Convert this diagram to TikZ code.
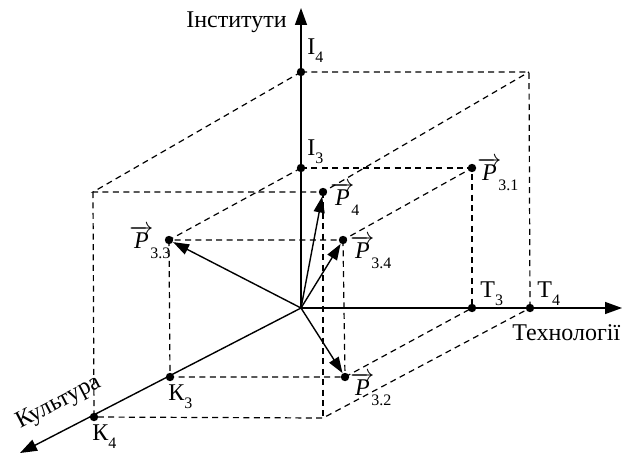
\documentclass[tikz,border=0pt]{standalone}
\usepackage{fontspec}
\setmainfont{Liberation Serif}
\usetikzlibrary{arrows.meta,positioning}

\newcommand{\lidx}[1]{\raisebox{-4pt}{\footnotesize #1}}
\newcommand{\vP}[1]{$\overrightarrow{\textit{P}}$\kern-1.5pt\raisebox{-5pt}{\footnotesize #1}}

\begin{document}
\begin{tikzpicture}[
    x=0.5pt, y=0.5pt,
    font=\fontsize{12}{14}\selectfont,
    axis_line/.style={line width=0.7pt, -{Triangle[length=8.5pt,width=6pt]}},
    vec_arrow/.style={line width=0.7pt, -{Triangle[length=8pt,width=5.5pt]}},
    box_line/.style={line width=0.6pt, dash pattern=on 3pt off 2.2pt},
    pt_dot/.style={circle, fill=black, inner sep=0pt, minimum size=4.2pt},
    lbl/.style={inner sep=0pt, anchor=base west}
]

\useasboundingbox (-301,-147) rectangle (323,308);

% axes
\coordinate (o) at (0,0);
\coordinate (end_i) at (0,300);
\coordinate (end_t) at (321,0);
\coordinate (end_k) at (-281,-145);

% far corners of the large box
\coordinate (c_it) at (228,236);
\coordinate (c_ik) at (-208,116);
\coordinate (c_tk) at (22,-110);

% points on the axes
\node[pt_dot] (i3) at (0,140) {};
\node[pt_dot] (i4) at (0,236) {};
\node[pt_dot] (t3) at (171,0) {};
\node[pt_dot] (t4) at (229,0) {};
\node[pt_dot] (k3) at (-131,-69) {};
\node[pt_dot] (k4) at (-207,-109) {};

% vector ends
\node[pt_dot] (p31) at (171,140) {};
\node[pt_dot] (p32) at (44,-69) {};
\node[pt_dot] (p33) at (-132,68) {};
\node[pt_dot] (p34) at (42,68) {};
\node[pt_dot] (p4) at (22,116) {};

% small box
\draw[box_line] (i3.center) -- (p31.center) -- (t3.center);
\draw[box_line] (i3.center) -- (p33.center) -- (p34.center) -- (p31.center);
\draw[box_line] (p33.center) -- (k3.center) -- (p32.center) -- (t3.center);
\draw[box_line] (p34.center) -- (p32.center);

% large box
\draw[box_line] (i4.center) -- (c_it) -- (t4.center);
\draw[box_line] (i4.center) -- (c_ik) -- (p4.center) -- (c_it);
\draw[box_line] (c_ik) -- (k4.center) -- (c_tk) -- (t4.center);
\draw[box_line] (p4.center) -- (c_tk);

\draw[axis_line] (o) -- (end_i);
\draw[axis_line] (o) -- (end_t);
\draw[axis_line] (o) -- (end_k);

\draw[vec_arrow] (o) -- (p33);
\draw[vec_arrow] (o) -- (p4);
\draw[vec_arrow] (o) -- (p34);
\draw[vec_arrow] (o) -- (p32);

% labels
\node[inner sep=0pt, anchor=base east] (lab_i) at (-14,280) {Інститути};
\node[lbl] (lab_t) at (211,-32) {Технології};
\node[lbl, rotate=27.5] (lab_k) at (-281,-121) {Культура};

\node[lbl] (lab_i4) at (6,253) {І\lidx{4}};
\node[lbl] (lab_i3) at (6,153) {І\lidx{3}};
\node[lbl] (lab_t3) at (179,11) {Т\lidx{3}};
\node[lbl] (lab_t4) at (236,11) {Т\lidx{4}};
\node[lbl] (lab_k3) at (-133,-92) {К\lidx{3}};
\node[lbl] (lab_k4) at (-209,-132) {К\lidx{4}};

\node[lbl] (lab_p31) at (176,128) {\vP{3.1}};
\node[lbl] (lab_p4) at (29,103) {\vP{4}};
\node[lbl] (lab_p34) at (49,50) {\vP{3.4}};
\node[lbl] (lab_p32) at (49,-87) {\vP{3.2}};
\node[lbl] (lab_p33) at (-172,60) {\vP{3.3}};

\end{tikzpicture}
\end{document}
